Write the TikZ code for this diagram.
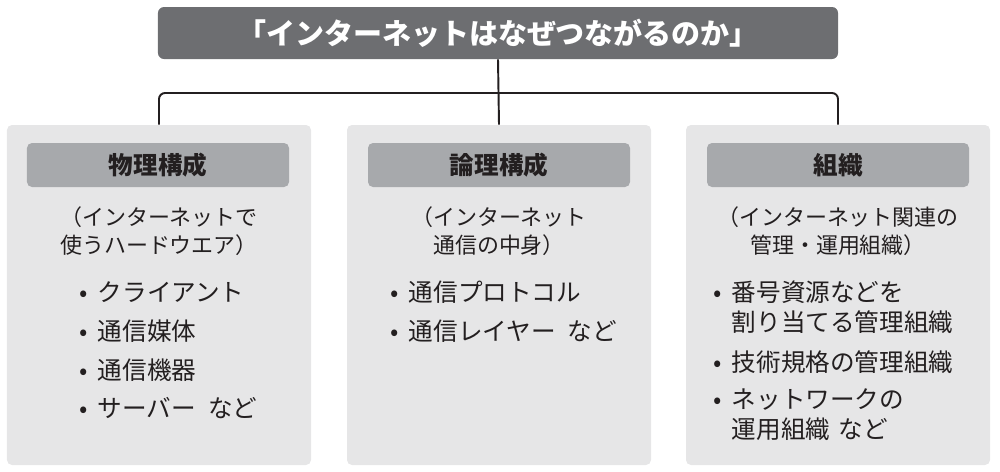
\documentclass[tikz,border=0pt]{standalone}
\usepackage{fontspec}
\setmainfont{Noto Sans CJK JP}
\usetikzlibrary{positioning}
\definecolor{topcol}{RGB}{109,110,113}
\definecolor{panelcol}{RGB}{230,230,231}
\definecolor{headcol}{RGB}{167,169,172}
\definecolor{inkcol}{RGB}{35,31,32}
\newcommand{\bul}{\makebox[0.75em][l]{•}}
\newcommand{\bulgap}{\makebox[0.75em][l]{}}

\begin{document}
\begin{tikzpicture}[x=0.2mm, y=-0.2mm,
  topbox/.style={rectangle, fill=topcol, rounded corners=1.2mm, text=white,
                 font=\fontsize{16.5}{20}\selectfont\bfseries,
                 minimum width=13.6cm, minimum height=1.04cm},
  panel/.style={rectangle, fill=panelcol, rounded corners=1mm,
                minimum width=6.08cm, minimum height=6.8cm},
  head/.style={rectangle, fill=headcol, rounded corners=1mm, text=inkcol,
               font=\fontsize{14}{17}\selectfont\bfseries,
               minimum width=5.24cm, minimum height=0.88cm},
  sub/.style={align=center, inner sep=0pt, text=inkcol,
              font=\fontsize{12.5}{15.9}\selectfont},
  item/.style={anchor=west, align=left, inner sep=0pt, text=inkcol,
               font=\fontsize{14}{17}\selectfont},
  wire/.style={line width=1.1pt, inkcol}
]
\useasboundingbox (0,0) rectangle (1000,471);

\node[topbox] (top) at (498,33) {「インターネットはなぜつながるのか」};

\node[panel] (phys) at (159,295) {};
\node[panel] (logi) at (499,295) {};
\node[panel] (org)  at (838,295) {};

\coordinate (bar) at (498,93);
\draw[wire] (top.south) -- (logi.north);
\draw[wire, rounded corners=1.2mm] (phys.north) |- (bar) -| (org.north);

% physical
\node[head] (h1) at (158,165) {物理構成};
\node[sub]  (s1) at (159,231) {（インターネットで\\使うハードウエア）};
\node[item] (i11) at (79,292) {\bul クライアント};
\node[item] (i12) at (79,331) {\bul 通信媒体};
\node[item] (i13) at (79,370) {\bul 通信機器};
\node[item] (i14) at (79,408) {\bul サーバー\hspace{0.5em}など};

% logical
\node[head] (h2) at (499,165) {論理構成};
\node[sub]  (s2) at (499,231) {（インターネット\\通信の中身）};
\node[item] (i21) at (390,292) {\bul 通信プロトコル};
\node[item] (i22) at (390,331) {\bul 通信レイヤー\hspace{0.5em}など};

% organisation
\node[head] (h3) at (838,165) {組織};
\node[sub]  (s3) at (838,231) {（インターネット関連の\\管理・運用組織）};
\node[item] (i31) at (713,307) {\bul 番号資源などを\\\bulgap 割り当てる管理組織};
\node[item] (i32) at (713,362) {\bul 技術規格の管理組織};
\node[item] (i33) at (713,415) {\bul ネットワークの\\\bulgap 運用組織\hspace{0.35em}など};

\end{tikzpicture}
\end{document}
